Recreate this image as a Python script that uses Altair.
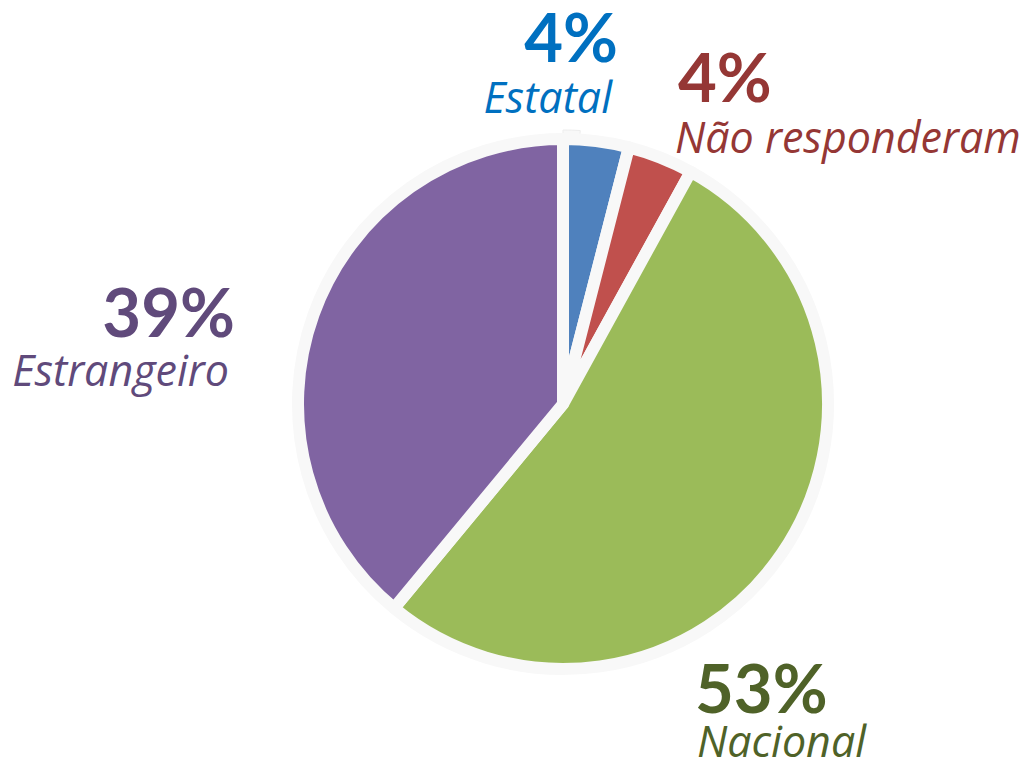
import altair as alt
import pandas as pd

categories = ["Estatal", "Não responderam", "Nacional", "Estrangeiro"]
values = [4, 4, 53, 39]
pct_labels = ["4%", "4%", "53%", "39%"]
slice_colors = ["#4F81BD", "#C0504D", "#9BBB59", "#8064A2"]
text_colors = ["#0070C0", "#953735", "#4F6228", "#604A7B"]

df = pd.DataFrame({"category": categories, "value": values, "order": list(range(len(categories)))})

CX, CY = 555, 396
PCT_FONT = "Lato"
NAME_FONT = "Open Sans"

ring_df = pd.DataFrame({"v": [1]})
shadow = alt.Chart(ring_df).mark_arc(radius=274, fill="#D9D9D9", opacity=0.7).encode(
    theta=alt.Theta("v:Q"), x=alt.value(CX - 2), y=alt.value(CY + 3)
)
ring = alt.Chart(ring_df).mark_arc(radius=274, fill="#F8F8F8", stroke="#EDEDED", strokeWidth=1).encode(
    theta=alt.Theta("v:Q"), x=alt.value(CX), y=alt.value(CY)
)

pie = alt.Chart(df).mark_arc(radius=265, stroke="#F8F8F8", strokeWidth=12, strokeJoin="round").encode(
    theta=alt.Theta("value:Q", stack=True),
    color=alt.Color("category:N", scale=alt.Scale(domain=categories, range=slice_colors), legend=None),
    order=alt.Order("order:Q"),
    x=alt.value(CX),
    y=alt.value(CY),
)

# label placement (x, baseline of pct, baseline of name, align, name x-shift) per category
placements = {
    "Estatal": (610, 54, 105, "right", -6),
    "Não responderam": (670, 94, 145, "left", -3),
    "Nacional": (687, 705, 749, "left", 2),
    "Estrangeiro": (227, 329, 378, "right", -6),
}

layers = [shadow, ring, pie]
for i, cat in enumerate(categories):
    x, yp, yn, al, dxn = placements[cat]
    one = pd.DataFrame({"pct": [pct_labels[i]], "name": [cat]})
    layers.append(
        alt.Chart(one).mark_text(font=PCT_FONT, fontSize=67, fontWeight="bold", align=al,
                                 baseline="alphabetic", color=text_colors[i]).encode(
            text="pct:N", x=alt.value(x), y=alt.value(yp))
    )
    layers.append(
        alt.Chart(one).mark_text(font=NAME_FONT, fontSize=43, fontStyle="italic", align=al,
                                 baseline="alphabetic", color=text_colors[i]).encode(
            text="name:N", x=alt.value(x + dxn), y=alt.value(yn))
    )

chart = alt.layer(*layers).properties(
    width=1015, height=753, padding=0, autosize="none", background="white"
).configure_view(stroke=None)

chart.save("out.html", embed_options={"renderer": "svg", "actions": False})
